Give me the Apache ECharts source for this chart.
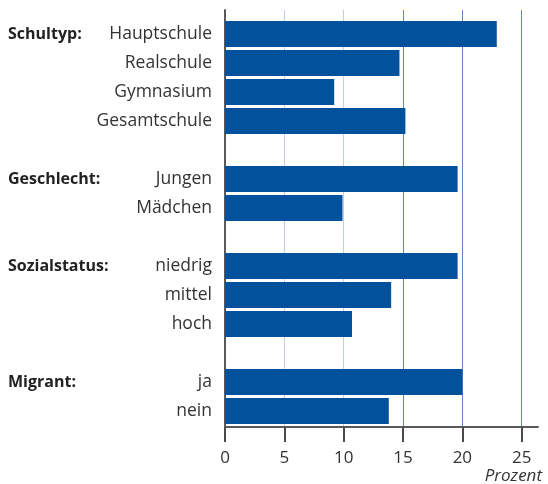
<!DOCTYPE html>
<html>
<head>
<meta charset="utf-8">
<script src="https://cdn.jsdelivr.net/npm/echarts@6/dist/echarts.min.js"></script>
<style>html,body{margin:0;padding:0;background:#fff}#c{width:548px;height:484px}</style>
</head>
<body>
<div id="c"></div>
<script>
const groupNames = ['Schultyp:', 'Geschlecht:', 'Sozialstatus:', 'Migrant:'];
const schultypCats = ['Hauptschule', 'Realschule', 'Gymnasium', 'Gesamtschule'];
const schultypVals = [22.9, 14.7, 9.2, 15.2];
const geschlechtCats = ['Jungen', 'Mädchen'];
const geschlechtVals = [19.6, 9.9];
const sozialCats = ['niedrig', 'mittel', 'hoch'];
const sozialVals = [19.6, 14.0, 10.7];
const migrantCats = ['ja', 'nein'];
const migrantVals = [20.0, 13.8];
const axisName = 'Prozent';

const groups = [
  [schultypCats, schultypVals],
  [geschlechtCats, geschlechtVals],
  [sozialCats, sozialVals],
  [migrantCats, migrantVals]
];
const cats = [], vals = [], groupLabels = [];
groups.forEach((g, gi) => {
  if (gi > 0) { const sp = ' '.repeat(gi); cats.push(sp); vals.push(null); groupLabels.push(sp); }
  g[0].forEach((c, i) => {
    cats.push(c); vals.push(g[1][i]);
    groupLabels.push(i === 0 ? groupNames[gi] : '\u200b'.repeat(cats.length));
  });
});

const FONT = 'Open Sans';
const chart = echarts.init(document.getElementById('c'), null, {renderer: 'canvas'});
chart.setOption({
  animation: false,
  title: {
    text: axisName, right: 6, top: 468, padding: 0,
    textStyle: {fontFamily: FONT, fontStyle: 'italic', fontWeight: 'normal', fontSize: 17, color: '#333'}
  },
  grid: [
    {left: 225, right: 10, top: 10, bottom: 57, containLabel: false},
    {left: 225, right: 26.3, top: 10, bottom: 57, containLabel: false},
    {left: 225, right: 26.3, top: 19.5, bottom: 58.5, containLabel: false}
  ],
  xAxis: [
    {gridIndex: 0, type: 'value', min: 0, max: 26.4,
     axisLine: {show: true, onZero: false, lineStyle: {color: '#5a5a5a', width: 2}},
     axisTick: {show: false}, axisLabel: {show: false}, splitLine: {show: false}},
    {gridIndex: 1, type: 'value', min: 0, max: 25, interval: 5,
     axisLine: {show: false},
     axisTick: {show: true, length: 15, lineStyle: {color: '#4a4a4a', width: 2}},
     axisLabel: {show: true, margin: 22, fontFamily: FONT, fontSize: 17, color: '#333', lineHeight: 18},
     splitLine: {show: true, lineStyle: {width: 1, color: ['#ffffff', '#c5cde6', '#c5cde6', '#6185c3', '#6185c3', '#6185c3']}}},
    {gridIndex: 2, type: 'value', min: 0, max: 25, show: false}
  ],
  yAxis: [
    {gridIndex: 0, type: 'value', min: 0, max: 1,
     axisLine: {show: true, onZero: false, lineStyle: {color: '#5a5a5a', width: 2}},
     axisTick: {show: false}, axisLabel: {show: false}, splitLine: {show: false}},
    {gridIndex: 1, type: 'value', show: false},
    {gridIndex: 2, type: 'category', inverse: true, data: cats,
     axisLine: {show: false}, axisTick: {show: false},
     axisLabel: {margin: 13, fontFamily: FONT, fontSize: 17.5, color: '#333', interval: 0}},
    {gridIndex: 2, type: 'category', inverse: true, data: groupLabels, position: 'left',
     axisLine: {show: false}, axisTick: {show: false},
     axisLabel: {margin: 217, align: 'left', fontFamily: FONT, fontSize: 16, fontWeight: 'bold', color: '#222', interval: 0}}
  ],
  series: [{
    type: 'bar', xAxisIndex: 2, yAxisIndex: 2, data: vals, barWidth: 26,
    itemStyle: {color: '#02519c'}, z: 3
  }]
});
</script>
</body>
</html>
